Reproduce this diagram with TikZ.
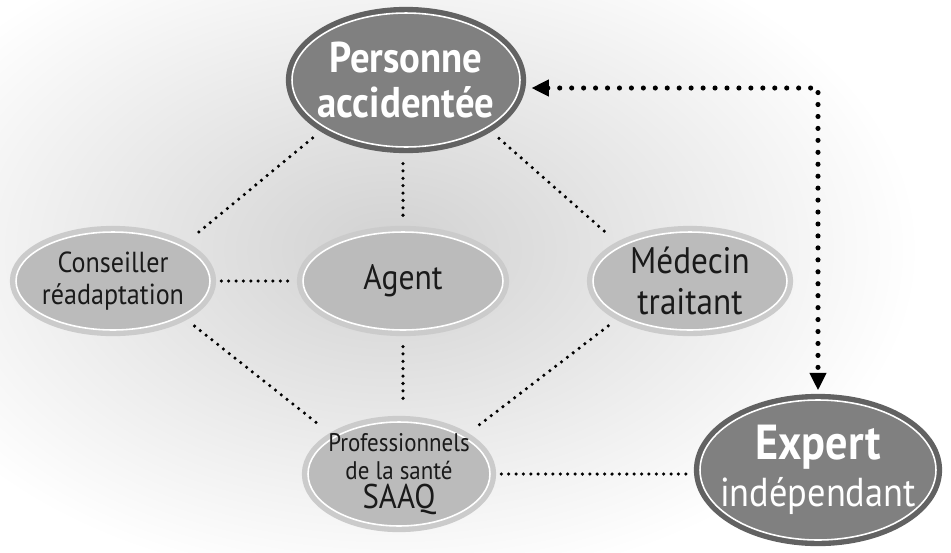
\documentclass[tikz,border=0pt]{standalone}
\usepackage{fontspec}
\setsansfont{PT Sans}[FakeStretch=0.9]
\renewcommand{\familydefault}{\sfdefault}
\usetikzlibrary{shapes.geometric,arrows.meta}

\definecolor{darkfill}{HTML}{808080}
\definecolor{darkring}{HTML}{626262}
\definecolor{lightfill}{HTML}{BBBBBB}
\definecolor{lightring}{HTML}{CBCBCB}
\definecolor{inktext}{HTML}{1A1A1A}

\tikzset{
  dark node/.style={ellipse, inner sep=0pt, fill=darkfill, draw=white, line width=0.9pt,
    preaction={draw=darkring, line width=7pt}},
  light node/.style={ellipse, inner sep=0pt, fill=lightfill, draw=white, line width=0.9pt,
    preaction={draw=lightring, line width=7pt}},
  dark text/.style={text=white, align=center, inner sep=0pt},
  light text/.style={text=inktext, align=center, inner sep=0pt},
  link/.style={line width=2pt, line cap=round, dash pattern=on 0pt off 4.2pt,
    shorten <=9pt, shorten >=9pt},
  big link/.style={line width=2.9pt, line cap=round, dash pattern=on 0pt off 6.8pt,
    {Triangle[length=10pt,width=9pt]}-{Triangle[length=10pt,width=9pt]},
    shorten <=6pt, shorten >=5pt},
}

\begin{document}
\begin{tikzpicture}[x=0.02cm, y=-0.02cm]
\useasboundingbox (0,0) rectangle (951,552);
% soft halo behind the diagram
\shade[inner color=gray!36, outer color=white] (390,250) ellipse [x radius=10.6cm, y radius=6.8cm];

% the people around the file
\node[dark node, minimum width=4.56cm, minimum height=2.68cm,
  label={[dark text, font=\bfseries\fontsize{24.5}{26}\selectfont]center:{Personne\\accidentée}}] (pa) at (406,80) {};
\node[light node, minimum width=3.88cm, minimum height=1.96cm,
  label={[light text, font=\fontsize{16.5}{18.5}\selectfont]center:{Conseiller\\réadaptation}}] (cr) at (113,281) {};
\node[light node, minimum width=4.0cm, minimum height=1.96cm,
  label={[light text, font=\fontsize{20}{22}\selectfont]center:{Agent}}] (ag) at (403,281) {};
\node[light node, minimum width=3.88cm, minimum height=1.96cm,
  label={[light text, font=\fontsize{21}{23}\selectfont]center:{Médecin\\traitant}}] (md) at (690,281) {};
\node[light node, minimum width=3.64cm, minimum height=2.08cm,
  label={[light text, font=\fontsize{14.5}{15.5}\selectfont]center:{Professionnels\\de la santé\\[1pt]{\fontsize{19.5}{20}\selectfont SAAQ}}}] (pr) at (399,474) {};
\node[dark node, minimum width=4.72cm, minimum height=2.8cm,
  label={[dark text, font=\fontsize{23}{27}\selectfont]center:{{\bfseries\fontsize{28}{28}\selectfont Expert}\\indépendant}}] (ex) at (818,470) {};

% dotted links
\draw[link] (pa.south west) -- (cr.north east);
\draw[link] (pa.south -| ag) -- (ag.north);
\draw[link] (pa.south east) -- (md.north west);
\draw[link, shorten <=6pt, shorten >=6pt] (cr.east) -- (ag.west);
\draw[link] (cr.south east) -- (pr.north west);
\draw[link] (ag.south) -- (ag.south |- pr.north);
\draw[link] (md.south west) -- (pr.north east);
\draw[link, shorten <=6pt, shorten >=7pt] (pr.east) -- (pr.east -| ex.west);

% expert link, both ways
\coordinate (bend) at (818,88);
\draw[big link] (bend -| pa.east) -- (bend) -- (ex.north);
\end{tikzpicture}
\end{document}
